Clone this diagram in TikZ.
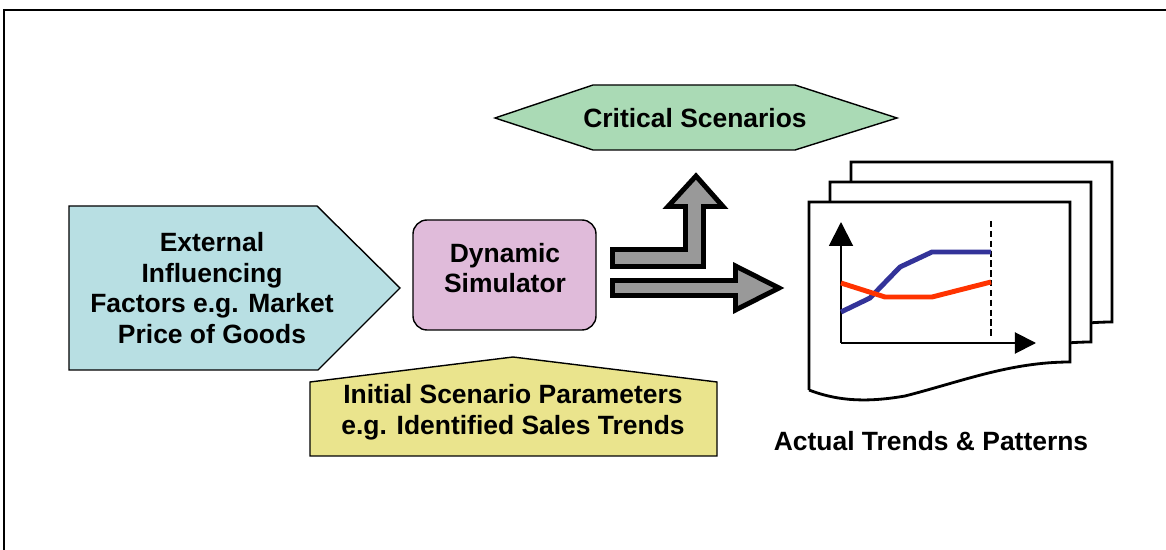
\documentclass[tikz,border=0pt]{standalone}
\usepackage{fontspec}
\setmainfont{Liberation Sans}
\usetikzlibrary{arrows.meta}

\definecolor{bleuclair}{HTML}{B8DFE3}
\definecolor{mauve}{HTML}{E0BBDA}
\definecolor{vertclair}{HTML}{AADAB5}
\definecolor{jaune}{HTML}{EAE48D}
\definecolor{grisfleche}{HTML}{999999}
\definecolor{bleucourbe}{HTML}{333399}
\definecolor{rougecourbe}{HTML}{FF3300}

\tikzset{
    lbl/.style={font=\fontsize{18.8}{21.8}\selectfont\bfseries, align=center},
    boite/.style={draw=black, line width=1pt},
    bloc/.style={draw=black, fill=grisfleche, line width=3.5pt},
    feuille/.style={draw=black, fill=white, line width=2pt},
    courbe/.style={line width=3.5pt}
}

\begin{document}
\begin{tikzpicture}[x=0.025cm, y=-0.025cm]
        \useasboundingbox (0,0) rectangle (1166,550);

        % cadre
        \draw[line width=1.4pt] (4,550) -- (4,10) -- (1166,10);

        % dessin des boites
        \draw[boite, fill=bleuclair] (69,206) -- (317,206) -- (400,288) -- (318,370) -- (69,370) -- cycle;
        \draw[boite, fill=mauve, rounded corners=10pt] (413,220) rectangle (596,330);
        \draw[boite, fill=vertclair] (495,118) -- (593,85) -- (795,85) -- (897,118) -- (795,150) -- (593,150) -- cycle;
        \draw[boite, fill=jaune] (310,456) -- (310,382) -- (513,357) -- (717,382) -- (717,456) -- cycle;

        % textes des boites
        \node[lbl] (ext) at (212,288) {External\\Influencing\\Factors e.g. Market\\Price of Goods};
        \node[lbl] (simu) at (505,268) {Dynamic\\Simulator};
        \node[lbl] (crit) at (695,118) {Critical Scenarios};
        \node[lbl] (init) at (513,412) {Initial Scenario Parameters\\e.g. Identified Sales Trends};

        % fleches du simulateur
        \coordinate (coude) at (612.5,249.5);
        \coordinate (droit) at (612.5,280.5);
        \draw[bloc] (coude) -- (685.5,249.5) -- (685.5,206.5) -- (668,206.5) -- (696,176)
            -- (723,206.5) -- (703.5,206.5) -- (703.5,266.5) -- (612.5,266.5) -- cycle;
        \draw[bloc] (droit) -- (735.5,280.5) -- (735.5,266) -- (779,288) -- (735.5,310)
            -- (735.5,295.5) -- (612.5,295.5) -- cycle;

        % dessin des feuilles (de l'arriere vers l'avant)
        \draw[feuille, shift={(42,-40)}] (809,390) -- (809,202) -- (1070,202) -- (1070,362)
            .. controls (1010,362) and (960,382) .. (905,396)
            .. controls (870,402) and (840,402) .. (809,390);
        \draw[feuille, shift={(21,-20)}] (809,390) -- (809,202) -- (1070,202) -- (1070,362)
            .. controls (1010,362) and (960,382) .. (905,396)
            .. controls (870,402) and (840,402) .. (809,390);
        \draw[feuille] (809,390) -- (809,202) -- (1070,202) -- (1070,362)
            .. controls (1010,362) and (960,382) .. (905,396)
            .. controls (870,402) and (840,402) .. (809,390);

        % graphique
        \coordinate (orig) at (841,343);
        \draw[line width=1.4pt, -{Triangle[length=17pt,width=17pt]}] (orig) -- (841,222);
        \draw[line width=1.4pt, -{Triangle[length=15pt,width=15pt]}] (orig) -- (1036,343);
        \draw[line width=0.9pt, dash pattern=on 4.5pt off 2.5pt] (991,221) -- (991,337);
        \draw[courbe, bleucourbe] (841,312) -- (870,298) -- (900,267) -- (932,252) -- (991,252);
        \draw[courbe, rougecourbe] (841,283) -- (885,297) -- (932,297) -- (991,282);

        \node[lbl] (legende) at (931,441) {Actual Trends \& Patterns};
\end{tikzpicture}
\end{document}
